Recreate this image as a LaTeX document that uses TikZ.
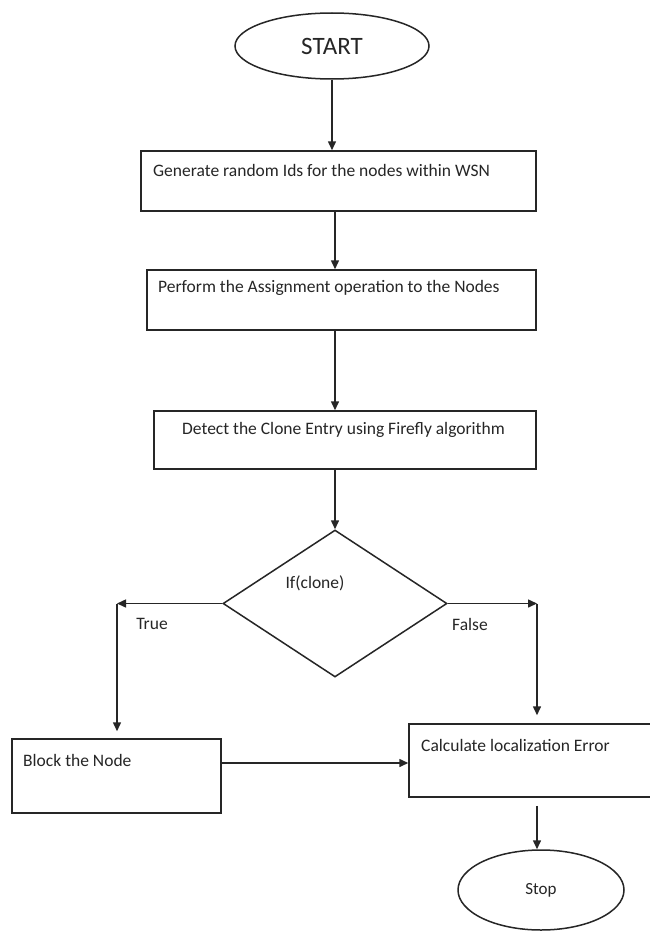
\documentclass[tikz,border=0pt]{standalone}
\usepackage{fontspec}
\setmainfont{Carlito}
\usetikzlibrary{shapes.geometric,arrows.meta}
\begin{document}
\begin{tikzpicture}[x=1pt,y=-1pt,
  line/.style={draw=black!85,line width=1.5pt},
  arr/.style={line,-{Triangle[length=9pt,width=8pt]}},
  procbox/.style={line,rectangle,inner sep=0pt},
  txt/.style={inner sep=0pt,anchor=west,font=\fontsize{17.5}{20}\selectfont,text=black!85},
  lbl/.style={inner sep=0pt,font=\fontsize{17.5}{20}\selectfont,text=black!85}]
\useasboundingbox (0,0) rectangle (649,931);
\fill[white] (0,0) rectangle (649,931);
% terminals
\node[line,ellipse,minimum width=194pt,minimum height=66pt,inner sep=0pt,
  font=\fontsize{25}{29}\selectfont,text=black!85] (start) at (332,46) {START};
\node[line,ellipse,minimum width=166pt,minimum height=80pt,inner sep=0pt,
  font=\fontsize{17}{20}\selectfont,text=black!85] (stop) at (541,890) {Stop};
% process boxes
\node[procbox,minimum width=395pt,minimum height=60pt] (b1) at (338.5,181) {};
\node[procbox,minimum width=389pt,minimum height=60pt] (b2) at (341.5,300) {};
\node[procbox,minimum width=382pt,minimum height=58pt] (b3) at (345,440) {};
\node[procbox,minimum width=209pt,minimum height=74pt] (block) at (116.5,776) {};
\node[procbox,minimum width=242pt,minimum height=73pt] (calc) at (530,760.5) {};
\node[txt] (t1) at (153,170) {Generate random Ids for the nodes within WSN};
\node[txt] (t2) at (158,288) {Perform the Assignment operation to the Nodes};
\node[txt] (t3) at (182,430) {Detect the Clone Entry using Firefly algorithm};
\node[txt] (t4) at (23,760) {Block the Node};
\node[txt] (t5) at (421,745) {Calculate localization Error};
% decision
\node[line,diamond,minimum width=224pt,minimum height=147pt,inner sep=0pt,aspect=1.52] (dec) at (335,603.5) {};
\node[lbl] (dtext) at (315,583) {If(clone)};
\node[lbl] (ltrue) at (152,624) {True};
\node[lbl] (lfalse) at (470,624) {False};
\coordinate (tc) at (117,603.5);
\coordinate (fc) at (537,603.5);
% connectors
\draw[arr] (start.south) -- (start.south |- b1.north);
\draw[arr] (b1.south -| 335,0) -- (335,0 |- b2.north);
\draw[arr] (b2.south -| 335,0) -- (335,0 |- b3.north);
\draw[arr] (b3.south -| 335,0) -- (dec.north);
\draw[arr] (dec.west) -- (tc);
\draw[arr,shorten >=7pt] (tc) -- (tc |- block.north);
\draw[arr] (dec.east) -- (fc);
\draw[arr,shorten >=8pt] (fc) -- (fc |- calc.north);
\draw[arr] ([yshift=13pt]block.east) -- ([yshift=13pt]block.east -| calc.west);
\draw[arr,shorten <=8pt] (fc |- calc.south) -- (fc |- stop.north);
\end{tikzpicture}
\end{document}
